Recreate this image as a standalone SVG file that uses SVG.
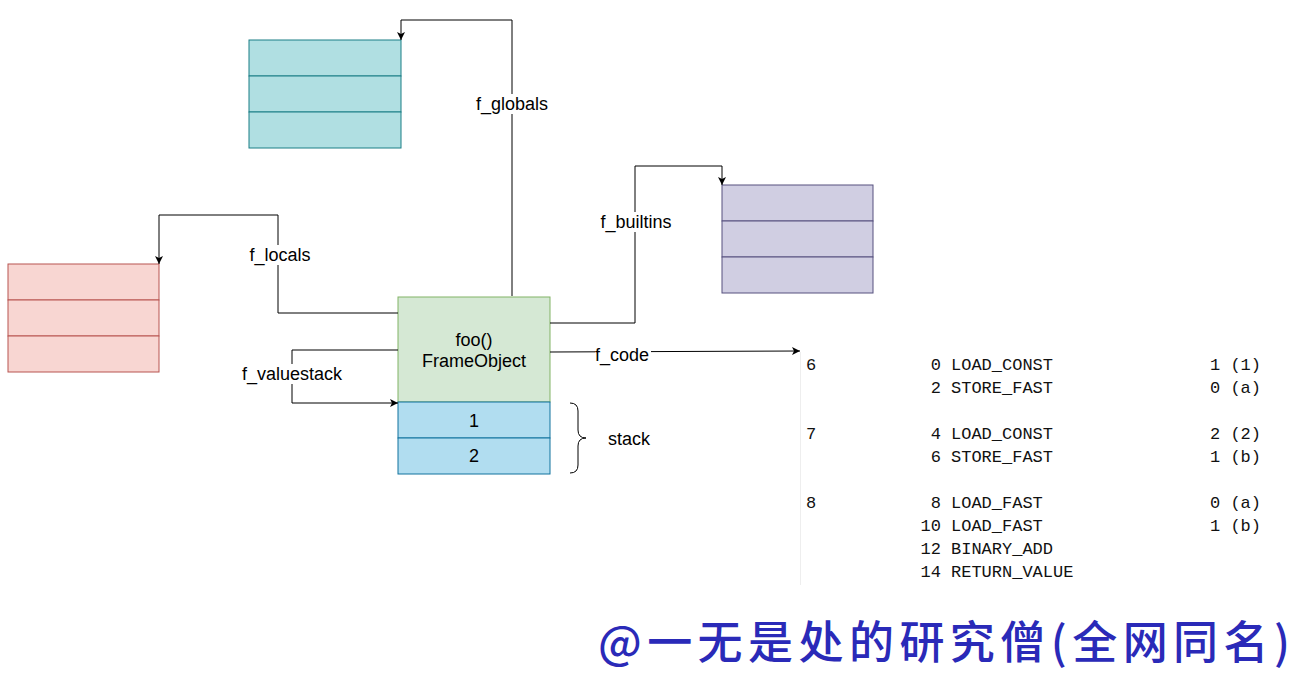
<svg xmlns="http://www.w3.org/2000/svg" width="1298" height="676" viewBox="0 0 1298 676">
<style>
.lbl{font-family:"Liberation Sans",Arial,sans-serif;font-size:18px;fill:#000;text-anchor:middle;dominant-baseline:central}
.code{font-family:"Liberation Mono","Courier New",monospace;font-size:17px;fill:#111}
.edge{fill:none;stroke:#000;stroke-width:1}
.bg{fill:#fff}
</style>
<defs>
<marker id="arr" viewBox="0 0 10 10" refX="10" refY="5" markerWidth="8" markerHeight="8" markerUnits="userSpaceOnUse" orient="auto">
<path d="M0,0 L10,5 L0,10 L2.5,5 Z" fill="#000"/>
</marker>
</defs>
<rect width="1298" height="676" fill="#fff"/>

<g id="globals-box">
<rect x="249" y="40" width="152" height="36" fill="#b0dfe2" stroke="#1a7f86"/>
<rect x="249" y="76" width="152" height="36" fill="#b0dfe2" stroke="#1a7f86"/>
<rect x="249" y="112" width="152" height="36" fill="#b0dfe2" stroke="#1a7f86"/>
</g>
<g id="locals-box">
<rect x="8" y="264" width="151" height="36" fill="#f8d6d2" stroke="#b85450"/>
<rect x="8" y="300" width="151" height="36" fill="#f8d6d2" stroke="#b85450"/>
<rect x="8" y="336" width="151" height="36" fill="#f8d6d2" stroke="#b85450"/>
</g>
<g id="builtins-box">
<rect x="722" y="185" width="151" height="36" fill="#d0cee2" stroke="#56517e"/>
<rect x="722" y="221" width="151" height="36" fill="#d0cee2" stroke="#56517e"/>
<rect x="722" y="257" width="151" height="36" fill="#d0cee2" stroke="#56517e"/>
</g>
<g id="frame">
<rect x="398" y="297" width="152" height="105" fill="#d5e8d4" stroke="#82b366"/>
<text class="lbl" x="474" y="340">foo()</text>
<text class="lbl" x="474" y="361">FrameObject</text>
</g>
<g id="stack">
<rect x="398" y="402" width="152" height="36" fill="#b1ddf0" stroke="#10739e"/>
<rect x="398" y="438" width="152" height="36" fill="#b1ddf0" stroke="#10739e"/>
<text class="lbl" x="474" y="421">1</text>
<text class="lbl" x="474" y="456">2</text>
</g>
<g id="stack-brace">
<path class="edge" d="M570,403 Q578,403 578,411 L578,430 Q578,438 586,438 Q578,438 578,446 L578,465 Q578,473 570,473"/>
<text class="lbl" x="629" y="439">stack</text>
</g>

<g id="connectors">
<path class="edge" d="M512,296 L512,20 L401,20 L401,40" marker-end="url(#arr)"/>
<path class="edge" d="M398,313 L278,313 L278,215 L159,215 L159,264" marker-end="url(#arr)"/>
<path class="edge" d="M550,323 L635,323 L635,166 L722,166 L722,185" marker-end="url(#arr)"/>
<path class="edge" d="M398,350 L292,350 L292,403 L398,403" marker-end="url(#arr)"/>
<path class="edge" d="M550,352 L800,351" marker-end="url(#arr)"/>
<rect class="bg" x="474" y="94" width="76" height="20"/>
<text class="lbl" x="512" y="104">f_globals</text>
<rect class="bg" x="247" y="245" width="66" height="20"/>
<text class="lbl" x="280" y="255">f_locals</text>
<rect class="bg" x="599" y="212" width="74" height="20"/>
<text class="lbl" x="636" y="222">f_builtins</text>
<rect class="bg" x="240" y="364" width="105" height="20"/>
<text class="lbl" x="292" y="374">f_valuestack</text>
<rect class="bg" x="595" y="345" width="56" height="20"/>
<text class="lbl" x="622" y="355">f_code</text>
</g>

<g id="bytecode">
<line x1="800.5" y1="352" x2="800.5" y2="585" stroke="#eeeeee"/>
<text class="code" x="806" y="370">6</text>
<text class="code" x="806" y="439">7</text>
<text class="code" x="806" y="508">8</text>
<g text-anchor="end">
<text class="code" x="941" y="370">0</text>
<text class="code" x="941" y="393">2</text>
<text class="code" x="941" y="439">4</text>
<text class="code" x="941" y="462">6</text>
<text class="code" x="941" y="508">8</text>
<text class="code" x="941" y="531">10</text>
<text class="code" x="941" y="554">12</text>
<text class="code" x="941" y="577">14</text>
</g>
<text class="code" x="951" y="370">LOAD_CONST</text>
<text class="code" x="951" y="393">STORE_FAST</text>
<text class="code" x="951" y="439">LOAD_CONST</text>
<text class="code" x="951" y="462">STORE_FAST</text>
<text class="code" x="951" y="508">LOAD_FAST</text>
<text class="code" x="951" y="531">LOAD_FAST</text>
<text class="code" x="951" y="554">BINARY_ADD</text>
<text class="code" x="951" y="577">RETURN_VALUE</text>
<text class="code" x="1210" y="370">1 (1)</text>
<text class="code" x="1210" y="393">0 (a)</text>
<text class="code" x="1210" y="439">2 (2)</text>
<text class="code" x="1210" y="462">1 (b)</text>
<text class="code" x="1210" y="508">0 (a)</text>
<text class="code" x="1210" y="531">1 (b)</text>
</g>

<text x="598" y="659" font-family="'Noto Sans CJK SC',sans-serif" font-weight="500" font-size="45" fill="#2a2ab8" textLength="692" lengthAdjust="spacing">@一无是处的研究僧(全网同名)</text>
</svg>
